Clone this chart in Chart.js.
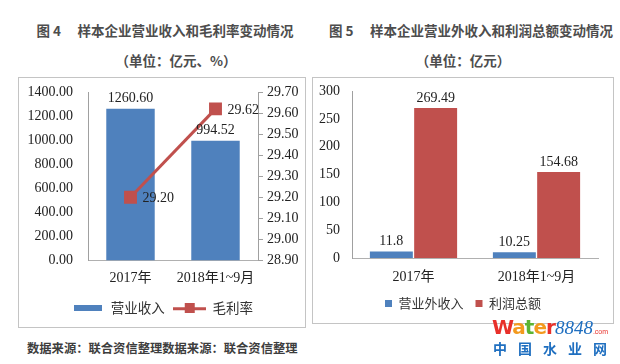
<!DOCTYPE html>
<html>
<head>
<meta charset="utf-8">
<script src="https://cdn.jsdelivr.net/npm/chart.js@4.4.1/dist/chart.umd.min.js"></script>
<style>
body{margin:0;width:620px;height:364px;background:#fff;position:relative;overflow:hidden;font-family:"Noto Sans CJK SC",sans-serif}
.t{position:absolute;color:#4d4d4d;font-size:13.5px;font-weight:bold;white-space:nowrap;text-align:center;line-height:18px}
.box{position:absolute;border:1px solid #c4c4c4;box-sizing:border-box}
.box canvas{position:absolute;left:0;top:0}
#wm1{position:absolute;left:492px;top:315px;white-space:nowrap;line-height:24px}
#wm2{position:absolute;left:493px;top:339px;color:#1f6fc0;font-size:14px;font-weight:bold;letter-spacing:11px;white-space:nowrap;line-height:18px}
</style>
</head>
<body>
<div class="t" style="left:15px;width:300px;top:21px">图 4　 样本企业营业收入和毛利率变动情况</div>
<div class="t" style="left:76px;width:200px;top:51px">（单位：亿元、%）</div>
<div class="t" style="left:321px;width:300px;top:21px">图 5　 样本企业营业外收入和利润总额变动情况</div>
<div class="t" style="left:363px;width:200px;top:51px">（单位：亿元）</div>
<div class="t" style="left:27px;top:339px;text-align:left;color:#3d3d3d;font-size:12.3px">数据来源：联合资信整理数据来源：联合资信整理</div>

<div class="box" style="left:18px;top:77px;width:288px;height:251px"><canvas id="c1" width="286" height="249"></canvas></div>
<div class="box" style="left:312px;top:77px;width:302px;height:247px"><canvas id="c2" width="300" height="245"></canvas></div>

<div id="wm1"><span style="font-family:'DejaVu Sans';font-weight:bold;font-size:20px;letter-spacing:-1px"><span style="color:#e8302a">W</span><span style="color:#f39a1e">a</span><span style="color:#5bb432">t</span><span style="color:#f39a1e">e</span><span style="color:#e8302a">r</span></span><span style="font-family:'Liberation Serif';font-style:italic;font-size:19px;color:#1f6fc0">8848</span><span style="font-family:'Liberation Sans';font-size:7px;color:#e8302a">.com</span></div>
<div id="wm2">中国水业网</div>

<script>
// 左图：营业收入 + 毛利率
var years = ["2017年", "2018年1~9月"];
var revenue = [1260.60, 994.52];
var grossMargin = [29.20, 29.62];
var revenueAxis = [0, 1400, 200];
var marginAxis = [28.90, 29.70, 0.10];

// 右图：营业外收入 + 利润总额
var nonOpIncome = [11.8, 10.25];
var totalProfit = [269.49, 154.68];
var profitAxis = [0, 300, 50];

var BLUE = '#4f81bd';
var RED = '#c0504d';
var serif = '"Liberation Serif", "Noto Sans CJK SC", serif';
var sans = '"Noto Sans CJK SC", sans-serif';

// 数值标签
var valueLabels = {
	id: 'valueLabels',
	afterDatasetsDraw: function(chart, args, opts) {
		var ctx = chart.ctx;
		ctx.save();
		ctx.font = '14px ' + serif;
		ctx.fillStyle = '#222';
		chart.data.datasets.forEach(function(ds, i) {
			var meta = chart.getDatasetMeta(i);
			meta.data.forEach(function(el, j) {
				var txt = opts.fmt(ds.data[j]);
				if (ds.type === 'line') {
					ctx.textAlign = 'left';
					ctx.textBaseline = 'middle';
					ctx.fillText(txt, el.x + 12, el.y + 1);
				} else {
					ctx.textAlign = 'center';
					ctx.textBaseline = 'bottom';
					ctx.fillText(txt, el.x, el.y - 3);
				}
			});
		});
		ctx.restore();
	}
};

// 图例小图标
function barIcon() {
	var c = document.createElement('canvas');
	c.width = 28; c.height = 6;
	var x = c.getContext('2d');
	x.fillStyle = BLUE;
	x.fillRect(0, 0, 28, 6);
	return c;
}
function lineIcon() {
	var c = document.createElement('canvas');
	c.width = 33; c.height = 10;
	var x = c.getContext('2d');
	x.fillStyle = RED;
	x.fillRect(0, 4, 33, 3);
	x.fillRect(12, 0, 10, 10);
	return c;
}
var icons = [barIcon(), lineIcon()];

new Chart(document.getElementById('c1'), {
	data: {
		labels: years,
		datasets: [{
			type: 'line',
			label: '毛利率',
			data: grossMargin,
			yAxisID: 'y1',
			borderColor: RED,
			backgroundColor: RED,
			borderWidth: 3,
			pointStyle: 'rect',
			pointRadius: 7,
			pointHoverRadius: 7,
			order: 0
		}, {
			type: 'bar',
			label: '营业收入',
			data: revenue,
			yAxisID: 'y',
			backgroundColor: BLUE,
			barPercentage: 0.57,
			categoryPercentage: 1,
			order: 1
		}]
	},
	options: {
		responsive: false,
		animation: false,
		layout: { padding: { top: 14, left: 0, right: 0, bottom: 2 } },
		plugins: {
			tooltip: { enabled: false },
			valueLabels: { fmt: function(v) { return v.toFixed(2); } },
			legend: {
				position: 'bottom',
				labels: {
					usePointStyle: true,
					pointStyleWidth: 33,
					padding: 8,
					color: '#333',
					font: { family: sans, size: 13.5 },
					generateLabels: function(chart) {
						var order = [1, 0];
						return order.map(function(i, k) {
							var ds = chart.data.datasets[i];
							return { text: ds.label, pointStyle: icons[k], fillStyle: ds.backgroundColor,
								strokeStyle: ds.backgroundColor, lineWidth: 0, hidden: false, datasetIndex: i, fontColor: '#333' };
						});
					}
				}
			}
		},
		scales: {
			x: {
				grid: { display: false, drawTicks: false },
				border: { display: true, color: '#b0b0b0' },
				ticks: { color: '#222', font: { family: serif, size: 14 }, padding: 9 },
				afterFit: function(s) { s.height = 33; }
			},
			y: {
				position: 'left',
				min: revenueAxis[0], max: revenueAxis[1],
				grid: { display: false, drawTicks: true, tickLength: 15 },
				border: { display: true, color: '#a0a0a0' },
				ticks: { stepSize: revenueAxis[2], color: '#222', font: { family: serif, size: 14 }, padding: 0,
					callback: function(v) { return v.toFixed(2); } },
				afterFit: function(s) { s.width = 69; }
			},
			y1: {
				position: 'right',
				min: marginAxis[0], max: marginAxis[1],
				grid: { display: true, drawOnChartArea: false, drawTicks: true, tickLength: 5, color: '#a0a0a0' },
				border: { display: true, color: '#a0a0a0' },
				ticks: { stepSize: marginAxis[2], autoSkip: false, color: '#222', font: { family: serif, size: 14 }, padding: 4,
					callback: function(v) { return v.toFixed(2); } },
				afterFit: function(s) { s.width = 47; }
			}
		}
	},
	plugins: [valueLabels]
});

new Chart(document.getElementById('c2'), {
	type: 'bar',
	data: {
		labels: years,
		datasets: [{
			label: '营业外收入',
			data: nonOpIncome,
			backgroundColor: BLUE,
			barPercentage: 0.97,
			categoryPercentage: 0.72
		}, {
			label: '利润总额',
			data: totalProfit,
			backgroundColor: RED,
			barPercentage: 0.97,
			categoryPercentage: 0.72
		}]
	},
	options: {
		responsive: false,
		animation: false,
		layout: { padding: { top: 13, left: 0, right: 0, bottom: 3 } },
		plugins: {
			tooltip: { enabled: false },
			valueLabels: { fmt: function(v) { return String(v); } },
			legend: {
				position: 'bottom',
				labels: {
					boxWidth: 7,
					boxHeight: 7,
					padding: 12,
					color: '#333',
					font: { family: sans, size: 13 }
				}
			}
		},
		scales: {
			x: {
				grid: { display: false, drawTicks: false },
				border: { display: true, color: '#b0b0b0' },
				ticks: { color: '#222', font: { family: serif, size: 14 }, padding: 11 },
				afterFit: function(s) { s.height = 27; }
			},
			y: {
				min: profitAxis[0], max: profitAxis[1],
				grid: { display: false, drawTicks: true, tickLength: 12 },
				border: { display: true, color: '#a0a0a0' },
				ticks: { stepSize: profitAxis[2], color: '#222', font: { family: serif, size: 14 }, padding: 0 },
				afterFit: function(s) { s.width = 39; }
			},
			// 右侧留白
			yr: {
				position: 'right',
				min: profitAxis[0], max: profitAxis[1],
				grid: { display: false, drawTicks: false },
				border: { display: false },
				ticks: { display: false },
				afterFit: function(s) { s.width = 15; }
			}
		}
	},
	plugins: [valueLabels]
});
</script>
</body>
</html>
